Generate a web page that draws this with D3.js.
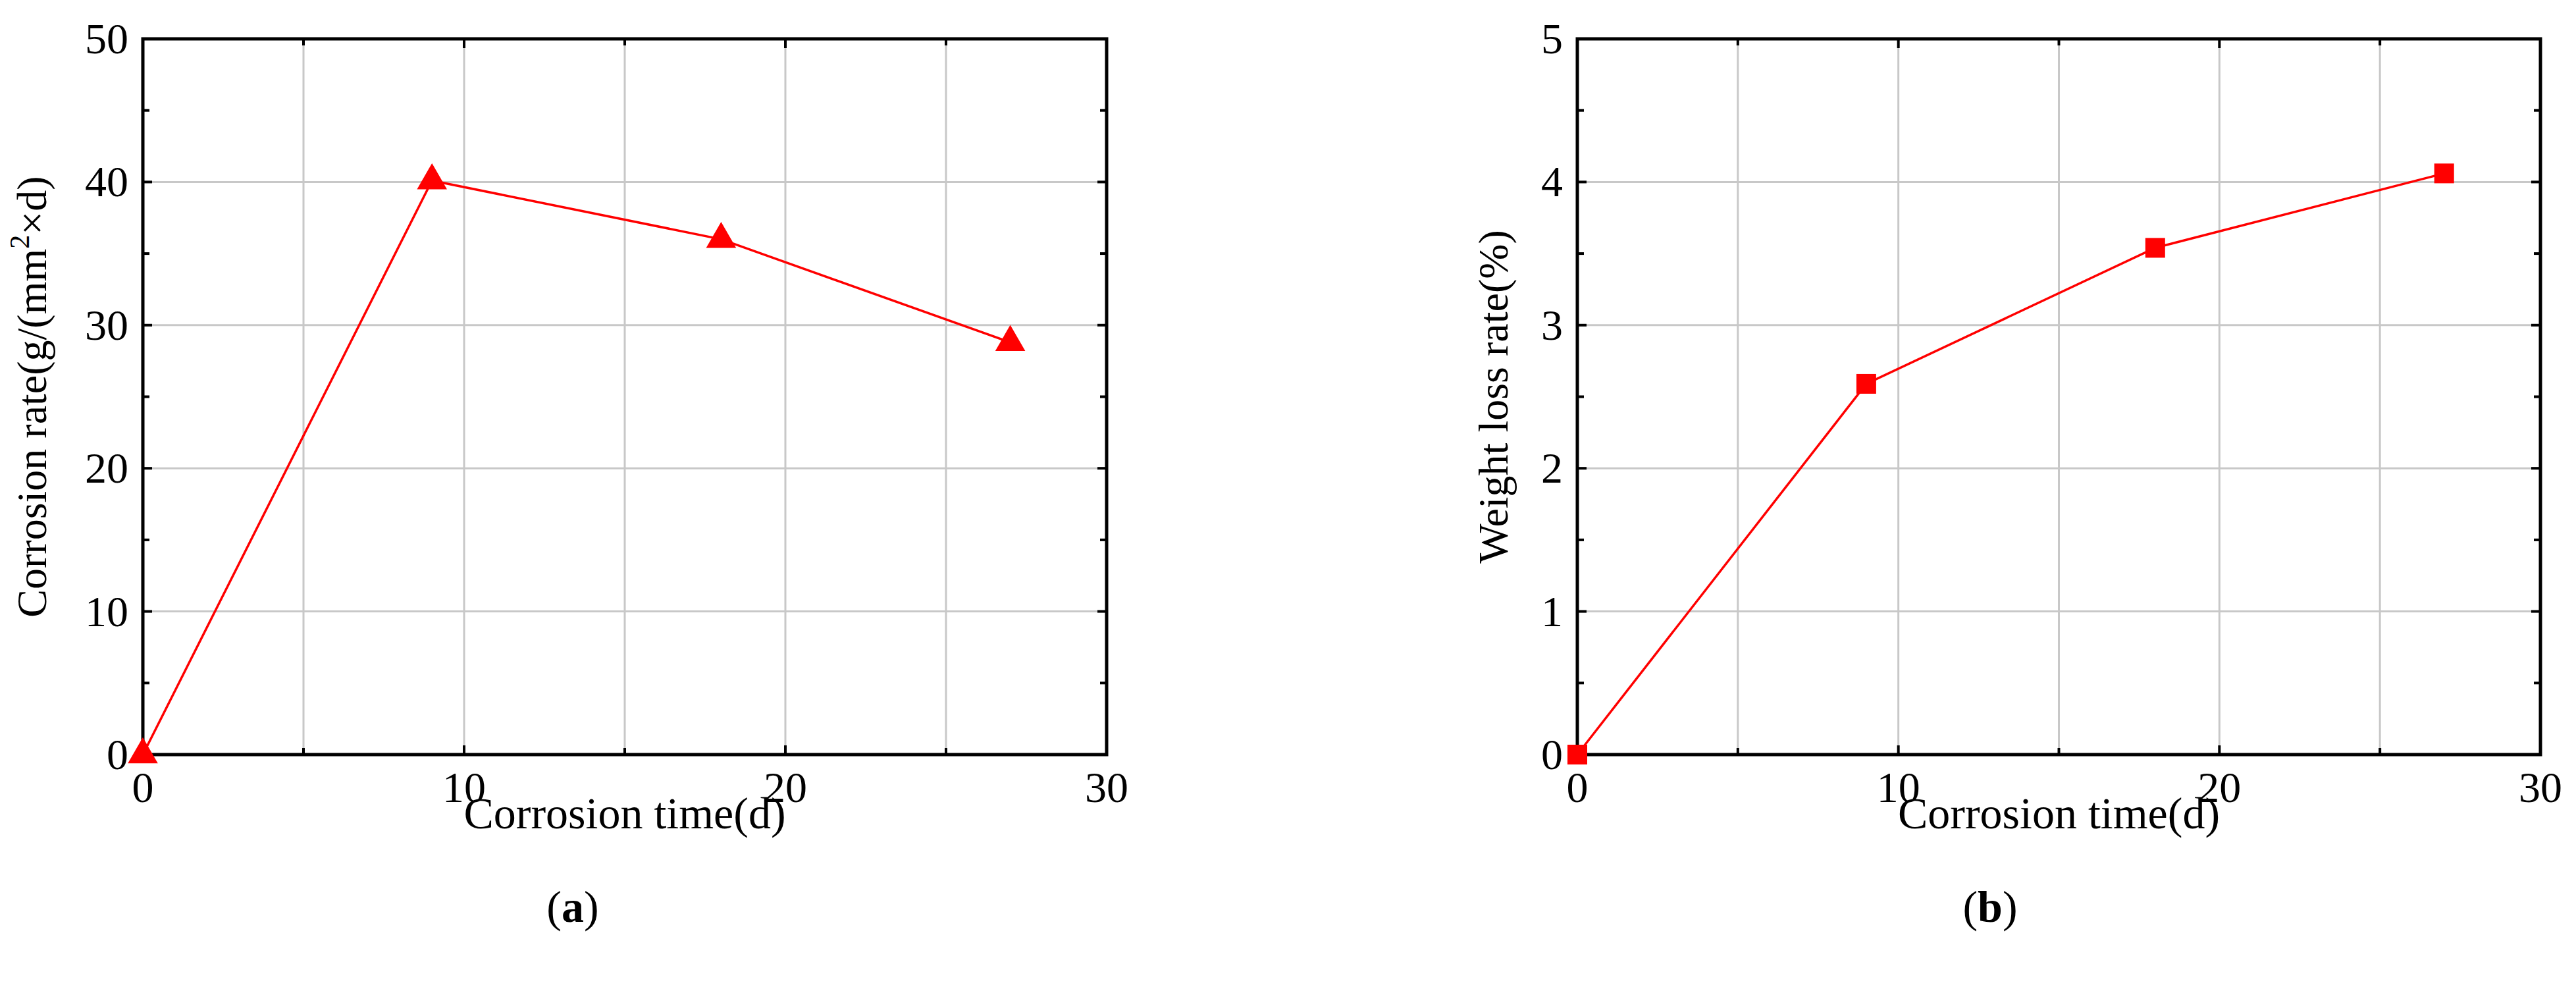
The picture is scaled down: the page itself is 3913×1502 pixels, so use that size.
<!DOCTYPE html>
<html><head><meta charset="utf-8">
<script src="https://cdn.jsdelivr.net/npm/d3@7"></script>
<style>body{margin:0;background:#fff}svg{display:block}text{font-family:"Liberation Serif","DejaVu Serif",serif;fill:#000}</style>
</head><body>
<svg id="c" width="3913" height="1502"></svg>
<script>
const days = [0, 9, 18, 27];
const corrosionRate = [0, 40.1, 36.0, 28.8];
const weightLoss = [0, 2.59, 3.54, 4.06];
const xTicks = [0, 10, 20, 30];
const yTicksA = [0, 10, 20, 30, 40, 50];
const yTicksB = [0, 1, 2, 3, 4, 5];

const svg = d3.select("#c");
function panel(o){
  const g = svg.append("g");
  const x = d3.scaleLinear().domain([0,30]).range([o.l,o.r]);
  const y = d3.scaleLinear().domain([0,o.ymax]).range([o.b,o.t]);
  g.selectAll(".gx").data(d3.range(5,30,5)).join("line")
    .attr("x1",d=>x(d)).attr("x2",d=>x(d)).attr("y1",o.t).attr("y2",o.b)
    .attr("stroke","#c8c8c8").attr("stroke-width",3);
  g.selectAll(".gy").data(o.yt.slice(1,-1)).join("line")
    .attr("y1",d=>y(d)).attr("y2",d=>y(d)).attr("x1",o.l).attr("x2",o.r)
    .attr("stroke","#c8c8c8").attr("stroke-width",3);
  const minorY = d3.range(0,o.ymax+1e-9,o.ymax/10);
  const minorX = d3.range(0,31,5);
  const tk = m=>m?14:10;
  minorX.forEach(d=>{const m=d%10===0;
    g.append("line").attr("x1",x(d)).attr("x2",x(d)).attr("y1",o.b).attr("y2",o.b-tk(m)).attr("stroke","#000").attr("stroke-width",4);
    g.append("line").attr("x1",x(d)).attr("x2",x(d)).attr("y1",o.t).attr("y2",o.t+tk(m)).attr("stroke","#000").attr("stroke-width",4);});
  minorY.forEach((d,i)=>{const m=i%2===0;
    g.append("line").attr("y1",y(d)).attr("y2",y(d)).attr("x1",o.l).attr("x2",o.l+tk(m)).attr("stroke","#000").attr("stroke-width",4);
    g.append("line").attr("y1",y(d)).attr("y2",y(d)).attr("x1",o.r).attr("x2",o.r-tk(m)).attr("stroke","#000").attr("stroke-width",4);});
  g.append("rect").attr("x",o.l).attr("y",o.t).attr("width",o.r-o.l).attr("height",o.b-o.t)
    .attr("fill","none").attr("stroke","#000").attr("stroke-width",5);
  g.selectAll(".xl").data(xTicks).join("text").attr("x",d=>x(d)).attr("y",o.b+72)
    .attr("text-anchor","middle").attr("font-size",66).text(d=>d);
  g.selectAll(".yl").data(o.yt).join("text").attr("x",o.l-22).attr("y",d=>y(d)+22)
    .attr("text-anchor","end").attr("font-size",66).text(d=>d);
  g.append("text").attr("x",(o.l+o.r)/2).attr("y",o.b+112).attr("text-anchor","middle")
    .attr("font-size",68).text("Corrosion time(d)");
  const yt = g.append("text").attr("transform",`translate(${o.yx},${(o.t+o.b)/2}) rotate(-90)`)
    .attr("text-anchor","middle").attr("font-size",64);
  o.ytitle(yt);
  const lab = g.append("text").attr("x",o.capx).attr("y",1400).attr("text-anchor","middle").attr("font-size",68);
  lab.append("tspan").text("(");
  lab.append("tspan").attr("font-weight","bold").text(o.cap);
  lab.append("tspan").text(")");
  const pts = days.map((d,i)=>[d,o.vals[i]]);
  g.append("path").datum(pts).attr("fill","none").attr("stroke","#ff0000").attr("stroke-width",3.5)
    .attr("d",d3.line().x(d=>x(d[0])).y(d=>y(d[1])));
  g.selectAll(".m").data(pts).join("path")
    .attr("transform",d=>`translate(${x(d[0])},${y(d[1])})`)
    .attr("d",d3.symbol().type(o.sym).size(o.symSize)).attr("fill","#ff0000");
}
panel({l:217,r:1681,t:59,b:1146,ymax:50,yt:yTicksA,vals:corrosionRate,sym:d3.symbolTriangle,symSize:900,
  yx:70,capx:870,cap:"a",
  ytitle:t=>{t.append("tspan").text("Corrosion rate(g/(mm");t.append("tspan").attr("dy",-26).attr("font-size",42).text("2");t.append("tspan").attr("dy",26).text("×d)");}});
panel({l:2396,r:3859,t:59,b:1146,ymax:5,yt:yTicksB,vals:weightLoss,sym:d3.symbolSquare,symSize:900,
  yx:2290,capx:3023,cap:"b",
  ytitle:t=>t.text("Weight loss rate(%)")});
</script>
</body></html>
